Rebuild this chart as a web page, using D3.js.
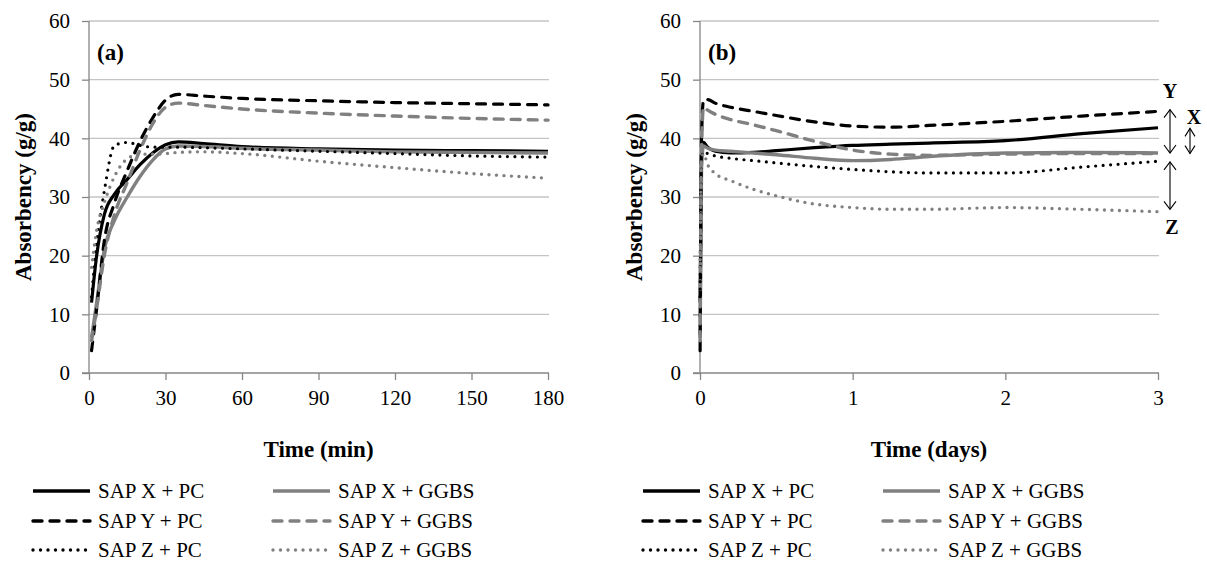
<!DOCTYPE html>
<html><head><meta charset="utf-8">
<script src="https://cdn.jsdelivr.net/npm/d3@7"></script>
<style>body{margin:0;background:#fff} svg text{font-family:"Liberation Serif","Times New Roman","DejaVu Serif",serif;}</style>
</head><body>
<svg id="c" width="1207" height="570"></svg>
<script>
// ---- data ----
const seriesNames = ["SAP X + PC","SAP X + GGBS","SAP Y + PC","SAP Y + GGBS","SAP Z + PC","SAP Z + GGBS"];
const timeA = [1, 3, 6, 10, 15, 20, 25, 30, 35, 45, 60, 90, 120, 150, 180]; // min
const aXPC   = [12, 20, 27, 30.5, 33, 35.5, 37.5, 38.9, 39.4, 39.1, 38.6, 38.2, 38, 37.9, 37.8];
const aXGGBS = [6, 12, 21, 26, 30, 33.5, 36.3, 38.2, 38.7, 38.6, 38.3, 38, 37.7, 37.6, 37.5];
const aYPC   = [3.8, 11, 22.5, 29, 34.5, 39.5, 43.5, 46.5, 47.5, 47.2, 46.8, 46.4, 46.1, 45.9, 45.7];
const aYGGBS = [5.5, 11, 20, 27, 32.5, 38, 42.5, 45.3, 46, 45.6, 45, 44.3, 43.8, 43.4, 43.1];
const aZPC   = [13, 22, 31, 38.8, 39.3, 38.8, 38.5, 38.5, 38.5, 38.4, 38.2, 37.8, 37.4, 37, 36.8];
const aZGGBS = [18, 24.3, 29, 33.5, 36.5, 37.3, 37.3, 37.4, 37.6, 37.7, 37.4, 36.1, 35, 34, 33.2];

const timeB = [0.0007, 0.01, 0.023, 0.05, 0.1, 0.2, 0.35, 0.5, 0.75, 1.0, 1.25, 1.5, 2.0, 2.5, 3.0]; // days
const bXPC   = [12, 37, 39.3, 38.5, 37.8, 37.5, 37.6, 37.9, 38.4, 38.8, 39, 39.2, 39.6, 40.8, 41.8];
const bXGGBS = [6, 35, 38.7, 38.3, 38, 37.8, 37.5, 37.2, 36.6, 36.2, 36.4, 36.9, 37.5, 37.6, 37.5];
const bYPC   = [3.8, 40, 46.5, 46.6, 46, 45.3, 44.6, 43.9, 42.8, 42.1, 41.9, 42.2, 42.9, 43.8, 44.6];
const bYGGBS = [5.5, 38, 45.3, 44.8, 44.1, 43.2, 42.3, 41.3, 39.5, 38, 37.3, 37.1, 37.3, 37.4, 37.4];
const bZPC   = [13, 36, 37.8, 37.4, 37, 36.6, 36.2, 35.8, 35.2, 34.7, 34.3, 34.1, 34.1, 35.1, 36.1];
const bZGGBS = [18, 36, 37.4, 35.5, 34, 32.8, 31.3, 30.2, 28.8, 28.2, 27.9, 27.9, 28.2, 27.9, 27.5];

const yTicks = [0, 10, 20, 30, 40, 50, 60];
const xTicksA = [0, 30, 60, 90, 120, 150, 180];
const xTicksB = [0, 1, 2, 3];

// ---- styles ----
const styles = [
  {color:"#000", dash:null},
  {color:"#808080", dash:null},
  {color:"#000", dash:"9,8"},
  {color:"#808080", dash:"9,8"},
  {color:"#000", dash:"0,7.5"},
  {color:"#808080", dash:"0,7.5"}
];

const svg = d3.select("#c");
const TICK_FS = 21, LEG_FS = 21, TITLE_FS = 23;

function panel(opt){
  const x = d3.scaleLinear().domain(opt.xDomain).range([opt.x0, opt.x1]);
  const y = d3.scaleLinear().domain([0, 60]).range([373, 21]);
  const g = svg.append("g");
  g.selectAll("line.grid").data(yTicks.filter(d => d > 0)).join("line")
    .attr("x1", opt.x0).attr("x2", opt.x1 + 1)
    .attr("y1", d => y(d)).attr("y2", d => y(d))
    .attr("stroke", "#c4c4c4").attr("stroke-width", 1.3);
  const ya = g.append("g").attr("transform", `translate(${opt.x0},0)`)
    .call(d3.axisLeft(y).tickValues(yTicks).tickSize(7).tickPadding(12).tickFormat(d3.format("d")));
  const xa = g.append("g").attr("transform", `translate(0,${y(0)})`)
    .call(d3.axisBottom(x).tickValues(opt.xTicks).tickSize(7).tickPadding(10).tickFormat(d3.format("d")));
  [ya, xa].forEach(a => {
    a.attr("font-family", null).attr("font-size", null);
    a.select(".domain").attr("stroke", "#868686").attr("stroke-width", 1.3);
    a.selectAll(".tick line").attr("stroke", "#868686").attr("stroke-width", 1.3);
    a.selectAll(".tick text").style("font-size", TICK_FS + "px").attr("fill", "#000");
  });
  ya.select(".domain").attr("d", `M0,${y(60)}V${y(0)}`);
  xa.select(".domain").attr("d", `M${opt.x0 - 7},0H${opt.x1 + 1}`);

  const line = d3.line().x(d => x(d[0])).y(d => y(d[1])).curve(d3.curveMonotoneX);
  opt.series.forEach((vals, i) => {
    const st = styles[i];
    g.append("path").datum(opt.times.map((t, k) => [t, vals[k]]))
      .attr("d", line).attr("fill", "none")
      .attr("stroke", st.color).attr("stroke-width", i % 2 ? 3.4 : 3.2)
      .attr("stroke-dasharray", st.dash)
      .attr("stroke-linecap", st.dash ? "round" : "butt")
      .attr("stroke-linejoin", "round");
  });
  g.append("text").attr("x", opt.x0 + 8).attr("y", 60).text(opt.label)
    .style("font-size", TITLE_FS + "px").attr("font-weight", "bold");
  g.append("text").attr("transform", `translate(${opt.x0 - 58},${(y(0)+y(60))/2}) rotate(-90)`)
    .attr("text-anchor", "middle").style("font-size", TITLE_FS + "px").attr("font-weight", "bold")
    .text("Absorbency (g/g)");
  g.append("text").attr("x", (opt.x0 + opt.x1) / 2).attr("y", 457)
    .attr("text-anchor", "middle").style("font-size", TITLE_FS + "px").attr("font-weight", "bold")
    .text(opt.xTitle);
  const rows = [491, 521, 550];
  seriesNames.forEach((name, i) => {
    const col = i % 2, row = Math.floor(i / 2);
    const lx = opt.legX[col];
    const st = styles[i];
    g.append("line").attr("x1", lx).attr("x2", lx + 57)
      .attr("y1", rows[row]).attr("y2", rows[row])
      .attr("stroke", st.color).attr("stroke-width", 3.4)
      .attr("stroke-dasharray", st.dash)
      .attr("stroke-linecap", st.dash ? "round" : "butt");
    g.append("text").attr("x", lx + 65).attr("y", rows[row] + 7).text(name)
      .style("font-size", LEG_FS + "px");
  });
  return {x, y, g};
}

panel({x0: 89, x1: 548, xDomain: [0, 180], xTicks: xTicksA, times: timeA,
  series: [aXPC, aXGGBS, aYPC, aYGGBS, aZPC, aZGGBS], label: "(a)", xTitle: "Time (min)", legX: [33, 273]});
const pb = panel({x0: 700, x1: 1158, xDomain: [0, 3], xTicks: xTicksB, times: timeB,
  series: [bXPC, bXGGBS, bYPC, bYGGBS, bZPC, bZGGBS], label: "(b)", xTitle: "Time (days)", legX: [643, 883]});

function dblArrow(g, x, y1, y2, hw) {
  g.append("line").attr("x1", x).attr("x2", x).attr("y1", y1).attr("y2", y2)
    .attr("stroke", "#000").attr("stroke-width", 1.1);
  const h = 8;
  g.append("path").attr("d", `M${x-hw},${y1+h}L${x},${y1}L${x+hw},${y1+h}M${x-hw},${y2-h}L${x},${y2}L${x+hw},${y2-h}`)
    .attr("fill", "none").attr("stroke", "#000").attr("stroke-width", 1.1);
}
const yb = pb.y;
dblArrow(pb.g, 1170, yb(44.9), yb(37.5), 6);
dblArrow(pb.g, 1170, yb(36.0), yb(27.9), 6);
dblArrow(pb.g, 1190, yb(41.7), yb(37.4), 5);
[["Y", 1170, 98], ["X", 1194, 124], ["Z", 1172, 234]].forEach(([t, x, yy]) => {
  pb.g.append("text").attr("x", x).attr("y", yy).attr("text-anchor", "middle").text(t)
    .style("font-size", "20px").attr("font-weight", "bold");
});
</script>
</body></html>
